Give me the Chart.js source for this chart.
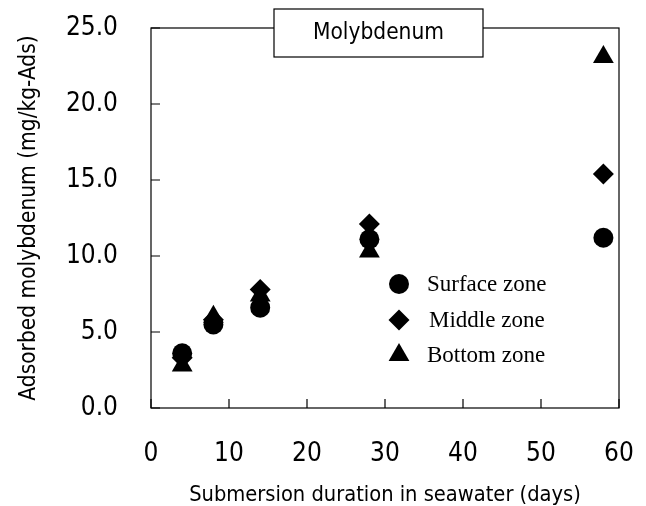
<!DOCTYPE html>
<html>
<head>
<meta charset="utf-8">
<script src="https://cdn.jsdelivr.net/npm/chart.js@4.4.0/dist/chart.umd.min.js"></script>
<style>
  html, body { margin: 0; padding: 0; background: #fff; }
  #wrap { width: 646px; height: 506px; }
</style>
</head>
<body>
<div id="wrap"><canvas id="chart"></canvas></div>
<script>
// Données
const jours = [4, 8, 14, 28, 58];
const surface = [3.6, 5.5, 6.6, 11.1, 11.2];
const milieu = [3.3, 5.8, 7.8, 12.1, 15.4];
const fond = [2.8, 6.0, 7.4, 10.3, 23.1];
const nomsSeries = ["Surface zone", "Middle zone", "Bottom zone"];
const titre = "Molybdenum";
const titreX = "Submersion duration in seawater (days)";
const titreY = "Adsorbed molybdenum (mg/kg-Ads)";

const policeSans = "'Liberation Sans Narrow', 'Arial Narrow', 'DejaVu Sans Condensed', sans-serif";
const policeSerif = "'Liberation Serif', 'Times New Roman', serif";

const styles = [
  { pointStyle: "circle", radius: 10 },
  { pointStyle: "rectRot", radius: 10.5 },
  { pointStyle: "triangle", radius: 12 },
];

function serie(vals, i) {
  return {
    label: nomsSeries[i],
    data: jours.map((j, k) => ({ x: j, y: vals[k] })),
    pointStyle: styles[i].pointStyle,
    pointRadius: styles[i].radius,
    pointHoverRadius: styles[i].radius,
    backgroundColor: "#000",
    borderColor: "#000",
    pointBorderWidth: 0,
    showLine: false,
  };
}

// Dessine un marqueur de légende (cercle, losange, triangle)
function marqueur(ctx, style, r, x, y) {
  if (Chart.helpers && Chart.helpers.drawPoint) {
    Chart.helpers.drawPoint(ctx, { pointStyle: style, radius: r, rotation: 0, borderWidth: 0 }, x, y);
    return;
  }
  ctx.beginPath();
  if (style === "circle") {
    ctx.arc(x, y, r, 0, Math.PI * 2);
  } else if (style === "rectRot") {
    ctx.moveTo(x - r, y); ctx.lineTo(x, y - r); ctx.lineTo(x + r, y); ctx.lineTo(x, y + r);
  } else {
    ctx.moveTo(x, y - r); ctx.lineTo(x + r * 0.866, y + r / 2); ctx.lineTo(x - r * 0.866, y + r / 2);
  }
  ctx.closePath();
  ctx.fill();
}

// Cadre, petites graduations intérieures, boîte de titre et légende
const decor = {
  id: "decor",
  afterDraw(chart) {
    const { ctx, chartArea: a, scales } = chart;
    ctx.save();
    ctx.strokeStyle = "#000";
    ctx.lineWidth = 1.2;
    ctx.strokeRect(a.left, a.top, a.right - a.left, a.bottom - a.top);

    ctx.beginPath();
    scales.x.ticks.forEach((t) => {
      const px = scales.x.getPixelForValue(t.value);
      ctx.moveTo(px, a.bottom);
      ctx.lineTo(px, a.bottom - 9);
    });
    scales.y.ticks.forEach((t) => {
      const py = scales.y.getPixelForValue(t.value);
      ctx.moveTo(a.left, py);
      ctx.lineTo(a.left + 9, py);
    });
    ctx.stroke();

    // boîte du titre
    const bx = 274, by = 9, bw = 209, bh = 48;
    ctx.fillStyle = "#fff";
    ctx.fillRect(bx, by, bw, bh);
    ctx.strokeRect(bx, by, bw, bh);
    ctx.fillStyle = "#000";
    ctx.font = "22.5px " + policeSans;
    ctx.textAlign = "center";
    ctx.textBaseline = "middle";
    ctx.fillText(titre, bx + bw / 2, by + bh / 2);

    // légende
    const lx = 399, ly = [284, 320, 355];
    ctx.font = "23px " + policeSerif;
    ctx.textAlign = "left";
    chart.data.datasets.forEach((ds, i) => {
      ctx.fillStyle = "#000";
      marqueur(ctx, ds.pointStyle, ds.pointRadius, lx, ly[i]);
      ctx.fillText(ds.label, i === 1 ? 429 : 427, ly[i] + 1);
    });
    ctx.restore();
  },
};

new Chart(document.getElementById("chart"), {
  type: "scatter",
  data: {
    datasets: [serie(surface, 0), serie(milieu, 1), serie(fond, 2)],
  },
  plugins: [decor],
  options: {
    responsive: true,
    maintainAspectRatio: false,
    animation: false,
    layout: { padding: { top: 28, right: 27, left: 0, bottom: 0 } },
    plugins: { legend: { display: false }, tooltip: { enabled: false } },
    scales: {
      x: {
        type: "linear",
        min: 0,
        max: 60,
        afterFit: (s) => {
          s.height = 98;
          s.paddingLeft = 0;
          s.paddingRight = 0;
        },
        grid: { display: false },
        border: { display: false },
        ticks: {
          stepSize: 10,
          color: "#000",
          padding: 23,
          font: { size: 26, family: policeSans },
        },
        title: {
          display: true,
          text: titreX,
          color: "#000",
          padding: { top: 0, bottom: -2 },
          font: { size: 21.7, family: policeSans },
        },
      },
      y: {
        type: "linear",
        min: 0,
        max: 25,
        afterFit: (s) => {
          s.width = 151;
          s.paddingTop = 0;
          s.paddingBottom = 0;
        },
        grid: { display: false },
        border: { display: false },
        ticks: {
          stepSize: 5,
          color: "#000",
          padding: 25,
          font: { size: 26, family: policeSans },
          callback: (v) => v.toFixed(1),
        },
        title: {
          display: true,
          text: titreY,
          color: "#000",
          padding: { top: 16, bottom: 0 },
          font: { size: 22.5, family: policeSans },
        },
      },
    },
  },
});
</script>
</body>
</html>
